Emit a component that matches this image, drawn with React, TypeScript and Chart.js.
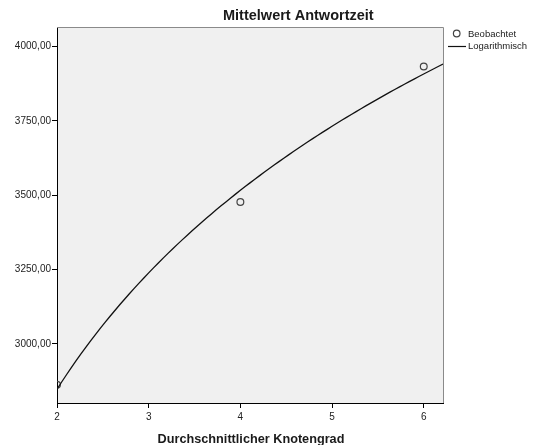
import { useEffect, useRef } from "react";
import { Chart, registerables } from "chart.js";

Chart.register(...registerables);

// Observed means: average node degree vs. mean response time
const degree = [2, 4, 6];
const responseTime = [2862, 3477, 3933];

// Axis ticks and ranges
const xTicks = [2, 3, 4, 5, 6];
const yTicks = [3000, 3250, 3500, 3750, 4000];
const xRange = [2, 6.21];
const yRange = [2801, 4066];

const chartTitle = "Mittelwert Antwortzeit";
const xTitle = "Durchschnittlicher Knotengrad";
const observedLabel = "Beobachtet";
const fitLabel = "Logarithmisch";

const FONT = "'Liberation Sans', Arial, sans-serif";

// Least-squares fit of y = a + b * ln(x) to the observed means
function logFit(xs: number[], ys: number[]) {
  const lx = xs.map((v) => Math.log(v));
  const n = xs.length;
  const mx = lx.reduce((s, v) => s + v, 0) / n;
  const my = ys.reduce((s, v) => s + v, 0) / n;
  let sxy = 0;
  let sxx = 0;
  for (let i = 0; i < n; i++) {
    sxy += (lx[i] - mx) * (ys[i] - my);
    sxx += (lx[i] - mx) * (lx[i] - mx);
  }
  const b = sxy / sxx;
  return { a: my - b * mx, b };
}

function fitCurve() {
  const { a, b } = logFit(degree, responseTime);
  const pts: { x: number; y: number }[] = [];
  const steps = 80;
  for (let i = 0; i <= steps; i++) {
    const x = xRange[0] + ((xRange[1] - xRange[0]) * i) / steps;
    pts.push({ x, y: a + b * Math.log(x) });
  }
  return pts;
}

const decorations = {
  id: "spssDecorations",
  beforeDraw(chart: any) {
    const { ctx, chartArea: ca } = chart;
    ctx.save();
    ctx.fillStyle = "#f0f0f0";
    ctx.fillRect(ca.left, ca.top, ca.right - ca.left, ca.bottom - ca.top);
    ctx.restore();
  },
  afterDraw(chart: any) {
    const { ctx, chartArea: ca } = chart;
    ctx.save();
    // top and right frame lines
    ctx.strokeStyle = "#8a8a8a";
    ctx.lineWidth = 1;
    ctx.beginPath();
    ctx.moveTo(ca.left, Math.floor(ca.top) + 0.5);
    ctx.lineTo(Math.floor(ca.right) + 0.5, Math.floor(ca.top) + 0.5);
    ctx.lineTo(Math.floor(ca.right) + 0.5, ca.bottom);
    ctx.stroke();

    // chart title
    ctx.fillStyle = "#1a1a1a";
    ctx.textBaseline = "alphabetic";
    ctx.textAlign = "left";
    ctx.font = `bold 14.5px ${FONT}`;
    ctx.fillText(chartTitle, 223, 20);

    // x axis title
    ctx.textAlign = "center";
    ctx.font = `bold 12.7px ${FONT}`;
    ctx.fillText(xTitle, (ca.left + ca.right) / 2 + 1, 443);

    // legend
    ctx.textAlign = "left";
    ctx.textBaseline = "middle";
    ctx.font = `9.5px ${FONT}`;
    ctx.strokeStyle = "#444";
    ctx.lineWidth = 1.2;
    ctx.beginPath();
    ctx.arc(456.7, 33.5, 3.3, 0, Math.PI * 2);
    ctx.stroke();
    ctx.fillText(observedLabel, 468, 34);
    ctx.strokeStyle = "#111";
    ctx.lineWidth = 1.2;
    ctx.beginPath();
    ctx.moveTo(448, 46.5);
    ctx.lineTo(466, 46.5);
    ctx.stroke();
    ctx.fillText(fitLabel, 468, 46.5);
    ctx.restore();
  },
};

export default function App() {
  const canvasRef = useRef<HTMLCanvasElement | null>(null);

  useEffect(() => {
    const canvas = canvasRef.current;
    if (!canvas) return;
    const chart = new Chart(canvas, {
      type: "scatter",
      data: {
        datasets: [
          {
            label: fitLabel,
            type: "line",
            data: fitCurve(),
            borderColor: "#111",
            borderWidth: 1.3,
            pointRadius: 0,
            tension: 0,
            fill: false,
            clip: 0,
          } as any,
          {
            label: observedLabel,
            data: degree.map((x, i) => ({ x, y: responseTime[i] })),
            pointRadius: 3.4,
            pointBorderColor: "#444",
            pointBackgroundColor: "rgba(0,0,0,0)",
            pointBorderWidth: 1.2,
            clip: 0,
          } as any,
        ],
      },
      options: {
        animation: false,
        responsive: false,
        layout: { padding: { top: 27, right: 93, left: 0, bottom: 0 } },
        plugins: {
          legend: { display: false },
          tooltip: { enabled: false },
          title: { display: false },
        },
        scales: {
          x: {
            type: "linear",
            min: xRange[0],
            max: xRange[1],
            afterBuildTicks: (scale: any) => {
              scale.ticks = xTicks.map((value) => ({ value }));
            },
            afterFit: (scale: any) => {
              scale.height = 42;
            },
            grid: {
              display: true,
              drawOnChartArea: false,
              drawTicks: true,
              tickLength: 5,
              tickColor: "#000",
            },
            border: { display: true, color: "#000", width: 1 },
            ticks: {
              padding: 3,
              color: "#222",
              font: { family: FONT, size: 10 },
              maxRotation: 0,
              callback: (v: any) => String(v),
            },
          },
          y: {
            type: "linear",
            min: yRange[0],
            max: yRange[1],
            afterBuildTicks: (scale: any) => {
              scale.ticks = yTicks.map((value) => ({ value }));
            },
            afterFit: (scale: any) => {
              scale.width = 57;
            },
            grid: {
              display: true,
              drawOnChartArea: false,
              drawTicks: true,
              tickLength: 5,
              tickColor: "#000",
            },
            border: { display: true, color: "#000", width: 1 },
            ticks: {
              padding: 1,
              color: "#222",
              font: { family: FONT, size: 10 },
              callback: (v: any) => Number(v).toFixed(2).replace(".", ","),
            },
          },
        },
      },
      plugins: [decorations],
    });
    return () => chart.destroy();
  }, []);

  return (
    <div style={{ position: "absolute", left: 0, top: 0, width: 536, height: 445, background: "#fff" }}>
      <canvas ref={canvasRef} width={536} height={445} style={{ display: "block" }} />
    </div>
  );
}
